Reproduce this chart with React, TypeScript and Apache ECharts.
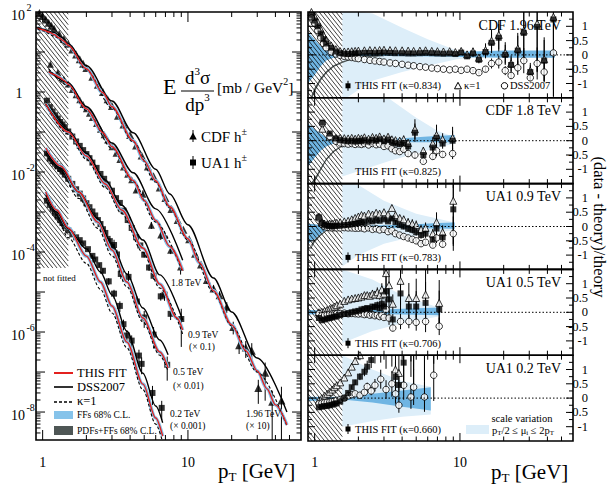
import React, { useEffect, useRef } from 'react';
import * as echarts from 'echarts';

const SERIF = '"Liberation Serif", "Times New Roman", "DejaVu Serif", serif';

// ---------------- axes / ticks ----------------
const X_MIN = 0.9;
const X_MAX = 60;
const Y_MIN = 2e-9;
const Y_MAX = 100;
const R_MIN = -1.5;
const R_MAX = 1.5;
const xMajorTicks = [1, 10];
const xMinorTicks = [2, 3, 4, 5, 6, 7, 8, 9, 20, 30, 40, 50];
const xTickLabels = ['1', '10'];
const yLeftLabelExps = [2, 0, -2, -4, -6, -8];
const rMajorTicks = [-1, -0.5, 0, 0.5, 1];
const rMinorTicks = [-1.25, -0.75, -0.25, 0.25, 0.75, 1.25];
const rTickValues = [1, 0.5, 0, -0.5, -1];
const rTickLabels = ['1', '0.5', '0', '-0.5', '-1'];
const notFittedPt = 1.5;
const notFittedPtRatio = 1.55;
const notFittedLowestY = 4e-5;

// ---------------- CDF 1.96 TeV (x10) ----------------
const cdf196Pt = [0.95, 1.0, 1.05, 1.1, 1.15, 1.2, 1.3, 1.4, 1.5, 1.6, 1.7, 1.8, 1.9, 2.0, 2.2, 2.4, 2.6, 2.8, 3.0, 3.3, 3.6, 4.0, 4.4, 4.8, 5.3, 5.8, 6.4, 7.0, 7.7, 8.5, 9.3, 10.2, 11.2, 12.3, 13.5, 15, 16.5, 18.5, 20.5, 22.5, 25, 27.5, 30.5, 34, 38, 44];
const cdf196Val = [95, 79, 65, 54, 45, 38, 28, 21, 16, 11.6, 8.7, 6.6, 5.1, 4.0, 2.4, 1.52, 1.0, 0.66, 0.45, 0.256, 0.155, 0.084, 0.046, 0.026, 0.0138, 0.0078, 0.0041, 0.00224, 0.00119, 6.3e-4, 3.6e-4, 2.08e-4, 9.0e-5, 4.9e-5, 2.0e-5, 1.23e-5, 8.3e-6, 4.3e-6, 1.34e-6, 4.7e-7, 4.1e-7, 3.4e-7, 4.0e-8, 9.6e-8, 1.8e-8, 1.95e-8];
const cdf196Err = [0.05, 0.05, 0.05, 0.05, 0.05, 0.05, 0.05, 0.05, 0.03, 0.03, 0.03, 0.03, 0.03, 0.03, 0.03, 0.03, 0.03, 0.03, 0.03, 0.03, 0.03, 0.03, 0.03, 0.03, 0.03, 0.03, 0.03, 0.03, 0.03, 0.03, 0.05, 0.08, 0.1, 0.12, 0.15, 0.2, 0.25, 0.3, 0.35, 0.4, 0.45, 0.55, 0.6, 0.8, 0.9, 1.2];
const cdf196RFit = [1.4, 1.2, 1.0, 0.75, 0.55, 0.4, 0.25, 0.12, 0.06, 0.04, 0.03, 0.04, 0.05, 0.06, 0.07, 0.07, 0.06, 0.07, 0.08, 0.07, 0.06, 0.06, 0.05, 0.05, 0.06, 0.07, 0.06, 0.05, 0.04, 0.05, 0.03, 0.08, -0.05, 0.05, -0.17, 0.1, 0.42, 0.6, 0.0, -0.35, 0.15, 0.77, -0.6, 0.98, -0.2, 1.24];
const cdf196RK1 = [1.5, 1.35, 1.15, 0.9, 0.7, 0.52, 0.33, 0.2, 0.13, 0.12, 0.12, 0.13, 0.14, 0.15, 0.16, 0.17, 0.16, 0.17, 0.18, 0.17, 0.16, 0.16, 0.15, 0.14, 0.15, 0.16, 0.14, 0.13, 0.12, 0.13, 0.1, 0.14, 0.02, 0.12, -0.1, 0.17, 0.5, 0.7, 0.07, -0.3, 0.22, 0.85, -0.55, 1.1, -0.15, 1.33];
const cdf196RDss = [1.3, 1.1, 0.85, 0.6, 0.4, 0.25, 0.1, 0.03, -0.02, -0.05, -0.07, -0.09, -0.11, -0.13, -0.16, -0.19, -0.21, -0.23, -0.25, -0.28, -0.3, -0.33, -0.36, -0.38, -0.41, -0.43, -0.46, -0.48, -0.5, -0.52, -0.5, -0.54, -0.5, -0.55, -0.62, -0.5, -0.3, -0.25, -0.55, -0.72, -0.45, -0.2, -0.8, -0.3, -0.6, 0.07];
const cdf196FitPt = [0.92, 1.0, 1.1, 1.2, 1.3, 1.4, 1.5, 2.0, 2.6, 3.0, 4.2, 5, 6, 7.5, 10, 12, 15, 20, 25, 30, 35, 40, 48];
const cdf196FitVal = [40, 36, 31.6, 27.5, 22.4, 18.6, 14.8, 3.8, 0.955, 0.427, 0.0603, 0.019, 0.00603, 0.00135, 2.14e-4, 5.4e-5, 1.07e-5, 1.51e-6, 3.4e-7, 1.07e-7, 3.8e-8, 1.51e-8, 4.8e-9];
const cdf196DssPt = [0.92, 1.0, 1.2, 1.35, 1.5, 2.0, 3.0, 4.2, 6.0, 7.5, 10, 15, 20, 30, 48];
const cdf196DssVal = [41.7, 37.2, 30.9, 23.4, 16.2, 4.57, 0.596, 0.0955, 0.01175, 0.00282, 4.8e-4, 2.24e-5, 3.16e-6, 2.24e-7, 1.0e-8];
const cdf196K1Pt = [0.92, 1.0, 1.2, 1.5, 2.0, 3.0, 4.2, 6.0, 7.5, 10, 15, 20, 30, 48];
const cdf196K1Val = [38, 33.9, 25.1, 14.1, 3.55, 0.398, 0.0562, 0.00562, 0.00126, 2.0e-4, 1.0e-5, 1.41e-6, 1.0e-7, 4.5e-9];

// ---------------- CDF 1.8 TeV ----------------
const cdf18Pt = [1.13, 1.27, 1.4, 1.5, 1.6, 1.7, 1.8, 1.9, 2.0, 2.1, 2.2, 2.35, 2.5, 2.65, 2.8, 3.0, 3.2, 3.4, 3.6, 3.85, 4.1, 4.4, 4.9, 5.6, 6.5, 6.9, 7.6, 8.9];
const cdf18Val = [4.93, 3.09, 2.09, 1.58, 1.15, 0.85, 0.64, 0.49, 0.38, 0.294, 0.23, 0.163, 0.117, 0.0857, 0.063, 0.0427, 0.0293, 0.0206, 0.0133, 0.0088, 0.0064, 0.00355, 0.00279, 4.7e-4, 2.68e-4, 2.6e-4, 1.11e-4, 4.2e-5];
const cdf18Err = [0.05, 0.04, 0.03, 0.03, 0.03, 0.03, 0.03, 0.03, 0.03, 0.04, 0.04, 0.04, 0.05, 0.05, 0.05, 0.06, 0.06, 0.07, 0.08, 0.1, 0.12, 0.15, 0.25, 0.2, 0.25, 0.3, 0.2, 0.35];
const cdf18RFit = [0.63, 0.25, 0.08, 0.02, 0.0, -0.02, 0.0, -0.03, 0.0, -0.02, 0.02, -0.03, 0.03, 0.0, 0.05, -0.02, 0.04, -0.05, -0.1, -0.12, -0.08, -0.2, 0.28, -0.5, -0.24, 0.1, -0.1, 0.0];
const cdf18RK1 = [0.42, 0.15, 0.1, 0.1, 0.09, 0.08, 0.1, 0.07, 0.1, 0.08, 0.12, 0.07, 0.13, 0.1, 0.15, 0.08, 0.14, 0.05, 0.02, 0.0, 0.05, -0.08, 0.4, -0.35, -0.1, 0.2, 0.05, 0.1];
const cdf18RDss = [0.6, 0.15, -0.02, -0.08, -0.1, -0.12, -0.1, -0.13, -0.11, -0.13, -0.1, -0.15, -0.1, -0.14, -0.12, -0.2, -0.18, -0.28, -0.35, -0.38, -0.3, -0.45, -0.5, -0.72, -0.55, -0.35, -0.48, -0.45];
const cdf18FitPt = [1.1, 1.2, 1.3, 1.4, 1.5, 2.0, 2.6, 3.0, 4.2, 5, 6, 7.5, 9.2];
const cdf18FitVal = [3.16, 2.75, 2.34, 1.95, 1.55, 0.38, 0.0955, 0.0427, 0.00617, 0.00195, 6.17e-4, 1.38e-4, 3.47e-5];
const cdf18DssPt = [1.1, 1.5, 2.0, 3.0, 4.2, 6.0, 9.2];
const cdf18DssVal = [3.39, 1.72, 0.427, 0.0533, 0.00955, 0.0012, 6.2e-5];
const cdf18K1Pt = [1.1, 1.5, 2.0, 3.0, 4.2, 6.0, 9.2];
const cdf18K1Val = [3.8, 1.44, 0.346, 0.0394, 0.00575, 5.6e-4, 3.1e-5];

// ---------------- UA1 0.9 TeV (x0.1) ----------------
const ua09Pt = [1.07, 1.12, 1.17, 1.22, 1.27, 1.32, 1.37, 1.42, 1.5, 1.6, 1.7, 1.8, 1.9, 2.0, 2.1, 2.2, 2.35, 2.5, 2.65, 2.8, 3.0, 3.2, 3.4, 3.6, 3.85, 4.1, 4.4, 4.7, 5.0, 5.4, 5.8, 6.5, 6.9, 7.6, 9.0];
const ua09Val = [0.608, 0.419, 0.326, 0.262, 0.217, 0.178, 0.154, 0.132, 0.103, 0.0771, 0.058, 0.045, 0.0353, 0.0281, 0.0222, 0.0172, 0.0127, 0.00895, 0.00676, 0.00488, 0.00341, 0.00222, 0.00169, 0.00108, 6.3e-4, 4.0e-4, 2.34e-4, 1.46e-4, 8.6e-5, 4.1e-5, 2.55e-5, 7.8e-6, 8.6e-6, 2.85e-6, 2.12e-6];
const ua09Err = [0.05, 0.04, 0.03, 0.03, 0.03, 0.03, 0.03, 0.03, 0.03, 0.03, 0.03, 0.03, 0.03, 0.03, 0.03, 0.03, 0.03, 0.03, 0.03, 0.03, 0.04, 0.05, 0.06, 0.07, 0.08, 0.1, 0.12, 0.14, 0.15, 0.18, 0.2, 0.22, 0.3, 0.3, 0.8];
const ua09RFit = [0.32, 0.12, 0.06, 0.03, 0.02, 0.0, 0.02, 0.03, 0.03, 0.05, 0.06, 0.08, 0.1, 0.12, 0.15, 0.14, 0.2, 0.18, 0.22, 0.2, 0.25, 0.18, 0.28, 0.15, 0.05, 0.0, -0.08, -0.12, -0.2, -0.3, -0.25, -0.45, -0.07, -0.38, 0.6];
const ua09RK1 = [0.35, 0.15, 0.1, 0.08, 0.1, 0.1, 0.12, 0.13, 0.15, 0.18, 0.2, 0.25, 0.3, 0.35, 0.4, 0.38, 0.45, 0.42, 0.48, 0.45, 0.5, 0.42, 0.65, 0.4, 0.3, 0.25, 0.15, 0.1, 0.05, -0.1, -0.05, -0.25, 0.15, -0.2, 0.9];
const ua09RDss = [0.3, 0.08, 0.0, -0.03, -0.04, -0.05, -0.04, -0.05, -0.05, -0.04, -0.05, -0.05, -0.06, -0.06, -0.05, -0.08, -0.05, -0.1, -0.08, -0.12, -0.1, -0.18, -0.15, -0.25, -0.3, -0.35, -0.4, -0.45, -0.5, -0.6, -0.55, -0.65, -0.4, -0.62, -0.25];
const ua09FitPt = [1.05, 1.5, 2.0, 2.7, 3.5, 4.9, 6.4, 8.4, 9.2];
const ua09FitVal = [0.501, 0.1, 0.0251, 0.00501, 0.00112, 1.26e-4, 1.58e-5, 2.24e-6, 1.12e-6];
const ua09DssPt = [1.05, 1.5, 2.0, 2.7, 3.5, 4.9, 6.4, 9.2];
const ua09DssVal = [0.501, 0.11, 0.0295, 0.0063, 0.00148, 2.0e-4, 2.69e-5, 2.0e-6];
const ua09K1Pt = [1.05, 1.5, 2.0, 2.7, 3.5, 4.9, 6.4, 9.2];
const ua09K1Val = [0.49, 0.0891, 0.0209, 0.00407, 9.1e-4, 9.8e-5, 1.26e-5, 8.9e-7];

// ---------------- UA1 0.5 TeV (x0.01) ----------------
const ua05Pt = [1.07, 1.12, 1.17, 1.22, 1.27, 1.32, 1.37, 1.42, 1.5, 1.6, 1.7, 1.8, 1.9, 2.0, 2.1, 2.2, 2.3, 2.4, 2.5, 2.6, 2.7, 2.8, 2.9, 3.0, 3.1, 3.25, 3.45, 3.9, 4.45, 5.0, 5.8, 7.2];
const ua05Val = [0.0293, 0.0216, 0.0186, 0.0161, 0.0138, 0.012, 0.01026, 0.0086, 0.00676, 0.00505, 0.0037, 0.00288, 0.00218, 0.00166, 0.00132, 0.00103, 8.2e-4, 6.3e-4, 5.0e-4, 3.72e-4, 3.0e-4, 2.13e-4, 1.87e-4, 1.35e-4, 1.5e-4, 8.7e-5, 2.83e-5, 2.39e-5, 5.8e-6, 2.31e-6, 8.6e-7, 1.52e-7];
const ua05Err = [0.04, 0.04, 0.04, 0.04, 0.04, 0.04, 0.04, 0.04, 0.04, 0.04, 0.04, 0.04, 0.04, 0.04, 0.04, 0.04, 0.04, 0.04, 0.08, 0.08, 0.1, 0.1, 0.12, 0.12, 0.35, 0.3, 0.25, 0.4, 0.35, 0.45, 0.55, 0.6];
const ua05RFit = [-0.2, -0.28, -0.25, -0.22, -0.2, -0.18, -0.15, -0.14, -0.1, -0.06, -0.05, 0.0, 0.03, 0.05, 0.1, 0.12, 0.15, 0.12, 0.2, 0.18, 0.25, 0.15, 0.3, 0.2, 0.73, 0.45, -0.25, 0.66, 0.2, 0.2, 0.33, 0.1];
const ua05RK1 = [0.0, 0.02, 0.05, 0.08, 0.12, 0.15, 0.2, 0.25, 0.3, 0.4, 0.45, 0.48, 0.5, 0.52, 0.55, 0.6, 0.6, 0.58, 0.65, 0.62, 0.7, 0.6, 0.8, 0.65, 1.37, 0.95, 0.3, 1.1, 0.5, 0.5, 0.62, 0.33];
const ua05RDss = [-0.05, -0.12, -0.1, -0.08, -0.07, -0.06, -0.05, -0.05, -0.04, -0.03, -0.05, -0.04, -0.05, -0.06, -0.05, -0.08, -0.06, -0.1, -0.08, -0.12, -0.1, -0.15, -0.1, -0.18, 0.1, -0.2, -0.55, -0.32, -0.32, -0.35, -0.32, -0.49];
const ua05FitPt = [1.05, 1.33, 1.77, 2.4, 3.0, 3.8, 4.9, 6.4, 7.3];
const ua05FitVal = [0.0398, 0.0141, 0.00316, 5.6e-4, 1.12e-4, 1.78e-5, 2.24e-6, 3.16e-7, 1.26e-7];
const ua05DssPt = [1.05, 1.33, 1.77, 2.4, 3.0, 3.8, 4.9, 6.4, 7.3];
const ua05DssVal = [0.0331, 0.0126, 0.00316, 6.8e-4, 1.58e-4, 2.82e-5, 3.98e-6, 6.3e-7, 2.69e-7];
const ua05K1Pt = [1.05, 1.33, 1.77, 2.4, 3.0, 3.8, 4.9, 6.4, 7.3];
const ua05K1Val = [0.0282, 0.01, 0.00219, 3.89e-4, 8.1e-5, 1.35e-5, 1.78e-6, 2.63e-7, 1.05e-7];

// ---------------- UA1 0.2 TeV (x0.001) ----------------
const ua02Pt = [1.07, 1.12, 1.17, 1.22, 1.27, 1.32, 1.37, 1.42, 1.5, 1.6, 1.7, 1.8, 1.9, 2.05, 2.2, 2.3, 2.45, 2.6, 2.85, 3.1, 3.4, 3.6, 3.8, 4.1, 4.6, 4.8, 5.7, 6.6];
const ua02Val = [1.92e-3, 1.51e-3, 1.2e-3, 9.5e-4, 7.7e-4, 6.3e-4, 5.3e-4, 4.5e-4, 3.5e-4, 2.77e-4, 2.33e-4, 1.98e-4, 1.64e-4, 1.18e-4, 8.0e-5, 6.5e-5, 4.7e-5, 3.4e-5, 1.85e-5, 9.1e-6, 4.5e-6, 1.57e-6, 8.2e-7, 6.1e-7, 2.58e-7, 1.6e-7, 3.0e-8, 1.27e-8];
const ua02Err = [0.03, 0.03, 0.03, 0.03, 0.03, 0.03, 0.03, 0.03, 0.03, 0.04, 0.05, 0.05, 0.06, 0.07, 0.08, 0.1, 0.12, 0.15, 0.2, 0.25, 0.3, 0.3, 0.35, 0.35, 0.4, 0.45, 0.5, 0.5];
const ua02RFit = [-0.32, -0.3, -0.28, -0.27, -0.25, -0.23, -0.2, -0.18, -0.12, 0.0, 0.18, 0.38, 0.55, 0.75, 0.92, 1.1, 1.33, 1.6, 1.8, 1.7, 2.0, 0.74, 0.46, 1.24, 1.9, 1.7, 1.6, 3.4];
const ua02RK1 = [-0.08, 0.0, 0.08, 0.15, 0.22, 0.3, 0.38, 0.45, 0.55, 0.72, 0.9, 1.1, 1.3, 1.5, 1.8, 2.1, 2.4, 2.8, 3.0, 3.0, 3.3, 1.0, 0.88, 2.0, 2.8, 2.6, 2.2, 4.5];
const ua02RDss = [-0.2, -0.18, -0.16, -0.15, -0.14, -0.12, -0.1, -0.08, -0.05, 0.0, 0.08, 0.12, 0.15, 0.1, 0.2, 0.4, 0.25, 0.45, 0.66, 0.3, 0.5, 0.15, -0.25, 0.45, 0.04, 0.38, 0.04, 0.8];
const ua02FitPt = [1.05, 1.25, 1.5, 2.0, 2.5, 3.0, 3.8, 4.9, 6.0, 6.7];
const ua02FitVal = [3.16e-3, 1.12e-3, 3.98e-4, 7.9e-5, 1.78e-5, 4.47e-6, 5.6e-7, 5.0e-8, 7.1e-9, 2.5e-9];
const ua02DssPt = [1.05, 1.25, 1.5, 2.0, 2.5, 3.0, 3.8, 4.9, 6.0, 6.7];
const ua02DssVal = [2.69e-3, 1.0e-3, 3.8e-4, 1.2e-4, 3.16e-5, 8.5e-6, 1.05e-6, 9.3e-8, 1.41e-8, 5.4e-9];
const ua02K1Pt = [1.05, 1.25, 1.5, 2.0, 2.5, 3.0, 3.8, 4.9, 6.0, 6.7];
const ua02K1Val = [2.24e-3, 7.1e-4, 2.29e-4, 5.2e-5, 1.17e-5, 3.0e-6, 4.0e-7, 3.6e-8, 5.0e-9, 1.78e-9];

// ---------------- ratio-panel bands ----------------
const p1ScalePt = [1.55, 2.5, 4, 6, 9.5, 13];
const p1ScaleLo = [-1.6, -0.9, -0.6, -0.38, -0.15, -0.1];
const p1ScaleHi = [1.6, 1.45, 0.95, 0.55, 0.15, 0.1];
const p1FfPt = [0.9, 1.0, 1.1, 1.2, 1.35, 1.55, 2, 3, 5, 8, 12, 20, 30, 45];
const p1FfLo = [-1.0, -0.7, -0.4, -0.2, -0.1, -0.05, -0.04, -0.04, -0.05, -0.06, -0.08, -0.1, -0.1, -0.1];
const p1FfHi = [0.8, 0.55, 0.3, 0.15, 0.08, 0.05, 0.04, 0.04, 0.05, 0.08, 0.12, 0.15, 0.15, 0.15];
const p1PdfPt = [0.95, 1.0, 1.1, 1.2, 1.35, 1.55, 1.8, 2.2, 3.0];
const p1PdfLo = [-1.6, -1.3, -0.9, -0.65, -0.42, -0.28, -0.16, -0.08, -0.05];
const p1PdfHi = [-1.42, -1.15, -0.8, -0.57, -0.36, -0.23, -0.12, -0.05, -0.03];

const p2ScalePt = [1.55, 3.3, 5, 7, 9.2];
const p2ScaleLo = [-1.25, -0.7, -0.45, -0.25, -0.1];
const p2ScaleHi = [1.6, 1.45, 0.8, 0.35, 0.12];
const p2FfPt = [0.9, 1.0, 1.1, 1.2, 1.35, 1.55, 2, 3, 4.5, 6, 9.2];
const p2FfLo = [-0.9, -0.6, -0.35, -0.2, -0.1, -0.05, -0.04, -0.04, -0.05, -0.05, -0.05];
const p2FfHi = [0.6, 0.4, 0.25, 0.12, 0.07, 0.05, 0.04, 0.05, 0.1, 0.15, 0.2];
const p2PdfPt = [0.95, 1.0, 1.1, 1.2, 1.35, 1.55, 2.0];
const p2PdfLo = [-1.6, -1.45, -1.05, -0.7, -0.4, -0.2, -0.08];
const p2PdfHi = [-1.45, -1.32, -0.95, -0.62, -0.34, -0.16, -0.05];

const p3ScalePt = [1.55, 2.0, 3.0, 5.0, 9.2];
const p3ScaleLo = [-1.4, -1.0, -0.6, -0.32, -0.12];
const p3ScaleHi = [1.6, 1.45, 0.9, 0.45, 0.14];
const p3FfPt = [0.9, 1.0, 1.1, 1.2, 1.4, 2, 3, 5, 7, 9.2];
const p3FfLo = [-0.6, -0.45, -0.25, -0.12, -0.05, -0.03, -0.04, -0.06, -0.07, -0.08];
const p3FfHi = [0.1, 0.08, 0.05, 0.04, 0.03, 0.03, 0.04, 0.08, 0.12, 0.14];
const p3PdfPt = [0.95, 1.0, 1.1, 1.2, 1.4];
const p3PdfLo = [-0.75, -0.55, -0.32, -0.17, -0.07];
const p3PdfHi = [-0.62, -0.45, -0.26, -0.13, -0.05];

const p4ScalePt = [1.55, 2.5, 4, 7.3];
const p4ScaleLo = [-1.07, -0.65, -0.38, -0.14];
const p4ScaleHi = [1.5, 1.15, 0.6, 0.15];
const p4FfPt = [0.9, 1.2, 1.5, 2.5, 4, 7.3];
const p4FfLo = [-0.08, -0.06, -0.05, -0.06, -0.08, -0.1];
const p4FfHi = [0.08, 0.06, 0.05, 0.08, 0.12, 0.17];

const p5ScalePt = [1.55, 2.5, 4, 6.3];
const p5ScaleLo = [-1.0, -0.8, -0.65, -0.57];
const p5ScaleHi = [1.5, 1.0, 0.6, 0.4];
const p5FfPt = [0.9, 1.2, 1.55, 2.5, 4, 6.3];
const p5FfLo = [-0.1, -0.08, -0.05, -0.15, -0.3, -0.43];
const p5FfHi = [0.05, 0.04, 0.05, 0.15, 0.27, 0.38];

// ---------------- colours ----------------
const RED = '#e3211f';
const FF_BLUE = '#6fb5e3';
const FF_BLUE_LEFT = '#86c3ea';
const SCALE_BLUE = '#ddeef9';
const PDF_GRAY = '#4e5655';

// ---------------- layout ----------------
const LG = { left: 36, top: 12, width: 265, height: 428 };
const RG = { left: 308, top: 12, width: 265 };
const PH = 85.8;

const leftSets = [
  { pt: cdf196Pt, val: cdf196Val, err: cdf196Err, sym: 'triangle', size: 8, fit: [cdf196FitPt, cdf196FitVal], dss: [cdf196DssPt, cdf196DssVal], k1: [cdf196K1Pt, cdf196K1Val] },
  { pt: cdf18Pt, val: cdf18Val, err: cdf18Err, sym: 'triangle', size: 7, fit: [cdf18FitPt, cdf18FitVal], dss: [cdf18DssPt, cdf18DssVal], k1: [cdf18K1Pt, cdf18K1Val] },
  { pt: ua09Pt, val: ua09Val, err: ua09Err, sym: 'rect', size: 6, fit: [ua09FitPt, ua09FitVal], dss: [ua09DssPt, ua09DssVal], k1: [ua09K1Pt, ua09K1Val] },
  { pt: ua05Pt, val: ua05Val, err: ua05Err, sym: 'rect', size: 6, fit: [ua05FitPt, ua05FitVal], dss: [ua05DssPt, ua05DssVal], k1: [ua05K1Pt, ua05K1Val] },
  { pt: ua02Pt, val: ua02Val, err: ua02Err, sym: 'rect', size: 6, fit: [ua02FitPt, ua02FitVal], dss: [ua02DssPt, ua02DssVal], k1: [ua02K1Pt, ua02K1Val] },
];

const ratioPanels = [
  { title: 'CDF 1.96 TeV', fitLabel: 'THIS FIT (κ=0.834)', marker: true, pt: cdf196Pt, err: cdf196Err, rFit: cdf196RFit, rK1: cdf196RK1, rDss: cdf196RDss,
    scale: [p1ScalePt, p1ScaleLo, p1ScaleHi], ff: [p1FfPt, p1FfLo, p1FfHi], pdf: [p1PdfPt, p1PdfLo, p1PdfHi] },
  { title: 'CDF 1.8 TeV', fitLabel: 'THIS FIT (κ=0.825)', marker: false, pt: cdf18Pt, err: cdf18Err, rFit: cdf18RFit, rK1: cdf18RK1, rDss: cdf18RDss,
    scale: [p2ScalePt, p2ScaleLo, p2ScaleHi], ff: [p2FfPt, p2FfLo, p2FfHi], pdf: [p2PdfPt, p2PdfLo, p2PdfHi] },
  { title: 'UA1 0.9 TeV', fitLabel: 'THIS FIT (κ=0.783)', marker: true, pt: ua09Pt, err: ua09Err, rFit: ua09RFit, rK1: ua09RK1, rDss: ua09RDss,
    scale: [p3ScalePt, p3ScaleLo, p3ScaleHi], ff: [p3FfPt, p3FfLo, p3FfHi], pdf: [p3PdfPt, p3PdfLo, p3PdfHi] },
  { title: 'UA1 0.5 TeV', fitLabel: 'THIS FIT (κ=0.706)', marker: true, pt: ua05Pt, err: ua05Err, rFit: ua05RFit, rK1: ua05RK1, rDss: ua05RDss,
    scale: [p4ScalePt, p4ScaleLo, p4ScaleHi], ff: [p4FfPt, p4FfLo, p4FfHi], pdf: null },
  { title: 'UA1 0.2 TeV', fitLabel: 'THIS FIT (κ=0.660)', marker: true, pt: ua02Pt, err: ua02Err, rFit: ua02RFit, rK1: ua02RK1, rDss: ua02RDss,
    scale: [p5ScalePt, p5ScaleLo, p5ScaleHi], ff: [p5FfPt, p5FfLo, p5FfHi], pdf: null },
];

// ---------------- helpers ----------------
let measureCtx: any = null;
function tw(text: string, size: number) {
  if (!measureCtx) measureCtx = document.createElement('canvas').getContext('2d');
  measureCtx.font = `${size}px ${SERIF}`;
  return measureCtx.measureText(text).width;
}
function txtEl(text: string, x: number, y: number, size: number, align = 'left', extra: any = {}) {
  return {
    type: 'text', x, y, silent: true, ...extra,
    style: { text, fill: '#000', font: `${size}px ${SERIF}`, align, verticalAlign: 'middle', textAlign: align, textVerticalAlign: 'middle' },
  };
}
function lineEl(x1: number, y1: number, x2: number, y2: number, w = 1, color = '#000', dash: any = null) {
  const style: any = { stroke: color, lineWidth: w };
  if (dash) style.lineDash = dash;
  return { type: 'line', silent: true, shape: { x1, y1, x2, y2 }, style };
}
function runs(x: number, y: number, pieces: any[], anchor = 'left', z = 100) {
  const widths = pieces.map((p) => tw(p[0], p[1]));
  const total = widths.reduce((a, b) => a + b, 0);
  let cx = anchor === 'left' ? x : anchor === 'center' ? x - total / 2 : x - total;
  return pieces.map((p, i) => {
    const el = txtEl(p[0], cx, y + (p[2] || 0), p[1], 'left', { z });
    cx += widths[i];
    return el;
  });
}

function bandSeries(gi: number, band: any, color: string) {
  const [pts, lo, hi] = band;
  return {
    type: 'custom', xAxisIndex: gi, yAxisIndex: gi, clip: true, silent: true,
    data: pts.map((p: number, i: number) => [p, lo[i], hi[i]]),
    renderItem: (params: any, api: any) => {
      if (params.dataIndex !== 0) return null;
      const up = pts.map((p: number, i: number) => api.coord([p, hi[i]]));
      const dn = pts.map((p: number, i: number) => api.coord([p, lo[i]])).reverse();
      return { type: 'polygon', shape: { points: up.concat(dn) }, style: { fill: color } };
    },
  };
}

function hatchSeries(gi: number, ptMax: number, yTop: number, yBottom: number | null) {
  return {
    type: 'custom', xAxisIndex: gi, yAxisIndex: gi, clip: true, silent: true,
    data: [[ptMax, yTop]],
    renderItem: (params: any, api: any) => {
      const cs = params.coordSys;
      const xa = cs.x;
      const xb = api.coord([ptMax, yTop])[0];
      const ya = cs.y;
      const yb = yBottom == null ? cs.y + cs.height : api.coord([ptMax, yBottom])[1];
      const s = 1.25;
      const d = 4.2;
      const children: any[] = [];
      for (let c = xa - (yb - ya) / s; c < xb; c += d) {
        const yS = ya + Math.max(0, xa - c) * s;
        const yE = Math.min(yb, ya + (xb - c) * s);
        if (yE <= yS) continue;
        children.push({ type: 'line', shape: { x1: c + (yS - ya) / s, y1: yS, x2: c + (yE - ya) / s, y2: yE }, style: { stroke: '#000', lineWidth: 0.75 } });
      }
      return { type: 'group', children };
    },
  };
}

function logErrSeries(set: any) {
  return {
    type: 'custom', xAxisIndex: 0, yAxisIndex: 0, clip: true, silent: true,
    data: set.pt.map((p: number, i: number) => [p, set.val[i], set.err[i]]),
    renderItem: (params: any, api: any) => {
      const x = api.value(0), v = api.value(1), e = api.value(2);
      const lo = e >= 0.97 ? 1e-12 : v * (1 - e);
      const a = api.coord([x, v * (1 + e)]);
      const b = api.coord([x, lo]);
      return { type: 'line', shape: { x1: a[0], y1: a[1], x2: b[0], y2: b[1] }, style: { stroke: '#000', lineWidth: 1 } };
    },
  };
}

function ratioErrSeries(gi: number, p: any) {
  const data: any[] = [];
  [p.rFit, p.rK1, p.rDss].forEach((arr: number[]) => {
    p.pt.forEach((x: number, i: number) => data.push([x, arr[i], p.err[i] * (1 + arr[i])]));
  });
  return {
    type: 'custom', xAxisIndex: gi, yAxisIndex: gi, clip: true, silent: true,
    data,
    renderItem: (params: any, api: any) => {
      const x = api.value(0), r = api.value(1), e = api.value(2);
      const a = api.coord([x, r + e]);
      const b = api.coord([x, r - e]);
      return { type: 'line', shape: { x1: a[0], y1: a[1], x2: b[0], y2: b[1] }, style: { stroke: '#000', lineWidth: 1 } };
    },
  };
}

function lineSeries(gi: number, curve: any, color: string, width: number, type: any = 'solid') {
  const [pts, vals] = curve;
  return {
    type: 'line', xAxisIndex: gi, yAxisIndex: gi, silent: true, clip: true,
    data: pts.map((p: number, i: number) => [p, vals[i]]),
    showSymbol: false, symbol: 'none', smooth: 0.3, smoothMonotone: 'x',
    lineStyle: { color, width, type },
  };
}

function leftAxesSeries() {
  return {
    type: 'custom', xAxisIndex: 0, yAxisIndex: 0, clip: false, silent: true, z: 10,
    data: [[1, 1]],
    renderItem: (params: any, api: any) => {
      const cs = params.coordSys;
      const x0 = cs.x, x1 = cs.x + cs.width, y0 = cs.y, y1 = cs.y + cs.height;
      const ch: any[] = [];
      ch.push({ type: 'rect', shape: { x: x0, y: y0, width: cs.width, height: cs.height }, style: { fill: 'none', stroke: '#000', lineWidth: 1.6 } });
      xMajorTicks.forEach((t, i) => {
        const px = api.coord([t, 1])[0];
        ch.push(lineEl(px, y1, px, y1 - 10), lineEl(px, y0, px, y0 + 10));
        ch.push(txtEl(xTickLabels[i], px, y1 + 22, 14, 'center'));
      });
      xMinorTicks.forEach((t) => {
        const px = api.coord([t, 1])[0];
        ch.push(lineEl(px, y1, px, y1 - 5), lineEl(px, y0, px, y0 + 5));
      });
      for (let e = -9; e <= 2; e++) {
        for (let k = 1; k <= 9; k++) {
          const v = k * Math.pow(10, e);
          if (v < Y_MIN * 1.001 || v > Y_MAX * 0.999) continue;
          const py = api.coord([1, v])[1];
          const len = k === 1 ? 9 : 4.5;
          ch.push(lineEl(x0, py, x0 + len, py), lineEl(x1, py, x1 - len, py));
        }
      }
      yLeftLabelExps.forEach((e) => {
        const py = api.coord([1, Math.pow(10, e)])[1];
        if (e === 0) ch.push(txtEl('1', x0 - 17, py + 1, 14, 'center'));
        else {
          ch.push(txtEl('10', x0 - 11, py + 3, 14, 'right'));
          ch.push(txtEl(String(e), x0 - 9.5, py - 5, 10, 'left'));
        }
      });
      return { type: 'group', children: ch };
    },
  };
}

function ratioAxesSeries(gi: number, last: boolean) {
  return {
    type: 'custom', xAxisIndex: gi, yAxisIndex: gi, clip: false, silent: true, z: 10,
    data: [[1, 0]],
    renderItem: (params: any, api: any) => {
      const cs = params.coordSys;
      const x0 = cs.x, x1 = cs.x + cs.width, y0 = cs.y, y1 = cs.y + cs.height;
      const ch: any[] = [];
      ch.push({ type: 'rect', shape: { x: x0, y: y0, width: cs.width, height: cs.height }, style: { fill: 'none', stroke: '#000', lineWidth: 1.6 } });
      xMajorTicks.forEach((t, i) => {
        const px = api.coord([t, 0])[0];
        ch.push(lineEl(px, y1, px, y1 - 8), lineEl(px, y0, px, y0 + 8));
        if (last) ch.push(txtEl(xTickLabels[i], px, y1 + 21, 14, 'center'));
      });
      xMinorTicks.forEach((t) => {
        const px = api.coord([t, 0])[0];
        ch.push(lineEl(px, y1, px, y1 - 4.5), lineEl(px, y0, px, y0 + 4.5));
      });
      rMajorTicks.forEach((v) => {
        const py = api.coord([1, v])[1];
        ch.push(lineEl(x0, py, x0 + 7, py), lineEl(x1, py, x1 - 7, py));
      });
      rMinorTicks.forEach((v) => {
        const py = api.coord([1, v])[1];
        ch.push(lineEl(x0, py, x0 + 4, py), lineEl(x1, py, x1 - 4, py));
      });
      rTickValues.forEach((v, j) => {
        const py = api.coord([1, v])[1];
        ch.push(txtEl(rTickLabels[j], x1 + 15, py, 12.5, 'right'));
      });
      return { type: 'group', children: ch };
    },
  };
}

function buildOption() {
  const grid: any[] = [];
  const xAxis: any[] = [];
  const yAxis: any[] = [];
  const series: any[] = [];

  grid.push({ left: LG.left, top: LG.top, width: LG.width, height: LG.height, show: false });
  xAxis.push({ type: 'log', logBase: 10, gridIndex: 0, min: X_MIN, max: X_MAX, show: false });
  yAxis.push({ type: 'log', logBase: 10, gridIndex: 0, min: Y_MIN, max: Y_MAX, show: false });
  for (let i = 0; i < 5; i++) {
    grid.push({ left: RG.left, top: RG.top + i * PH, width: RG.width, height: PH, show: false });
    xAxis.push({ type: 'log', logBase: 10, gridIndex: i + 1, min: X_MIN, max: X_MAX, show: false });
    yAxis.push({ type: 'value', gridIndex: i + 1, min: R_MIN, max: R_MAX, show: false });
  }

  // ---- left panel ----
  series.push(hatchSeries(0, notFittedPt, Y_MAX, notFittedLowestY));
  leftSets.forEach((s) => series.push(lineSeries(0, s.fit, FF_BLUE_LEFT, 3.5)));
  leftSets.forEach((s) => series.push(lineSeries(0, s.k1, '#000', 1.1, [3, 2])));
  leftSets.forEach((s) => series.push(lineSeries(0, s.dss, '#000', 1.4)));
  leftSets.forEach((s) => series.push(lineSeries(0, s.fit, RED, 1.4)));
  leftSets.forEach((s) => series.push(logErrSeries(s)));
  leftSets.forEach((s) => series.push({
    type: 'scatter', xAxisIndex: 0, yAxisIndex: 0, silent: true, clip: true,
    data: s.pt.map((p: number, i: number) => [p, s.val[i]]),
    symbol: s.sym, symbolSize: s.size, itemStyle: { color: '#000' },
  }));
  series.push(leftAxesSeries());

  // ---- ratio panels ----
  ratioPanels.forEach((p, i) => {
    const gi = i + 1;
    series.push(bandSeries(gi, p.scale, SCALE_BLUE));
    if (p.pdf) series.push(bandSeries(gi, p.pdf, PDF_GRAY));
    series.push(bandSeries(gi, p.ff, FF_BLUE));
    series.push(hatchSeries(gi, notFittedPtRatio, R_MAX, null));
    series.push({
      type: 'line', xAxisIndex: gi, yAxisIndex: gi, silent: true, data: [[X_MIN, 0], [X_MAX, 0]],
      showSymbol: false, symbol: 'none', lineStyle: { color: '#000', width: 1, type: [1.5, 2] },
    });
    series.push(ratioErrSeries(gi, p));
    series.push({
      type: 'scatter', xAxisIndex: gi, yAxisIndex: gi, silent: true, clip: true,
      data: p.pt.map((x: number, j: number) => [x, p.rK1[j]]),
      symbol: 'triangle', symbolSize: 7, itemStyle: { color: '#fff', borderColor: '#000', borderWidth: 1 },
    });
    series.push({
      type: 'scatter', xAxisIndex: gi, yAxisIndex: gi, silent: true, clip: true,
      data: p.pt.map((x: number, j: number) => [x, p.rDss[j]]),
      symbol: 'circle', symbolSize: 6.5, itemStyle: { color: '#fff', borderColor: '#000', borderWidth: 1 },
    });
    series.push({
      type: 'scatter', xAxisIndex: gi, yAxisIndex: gi, silent: true, clip: true,
      data: p.pt.map((x: number, j: number) => [x, p.rFit[j]]),
      symbol: 'rect', symbolSize: 6, itemStyle: { color: '#000' },
    });
    series.push(ratioAxesSeries(gi, i === 4));
  });

  // ---- graphic annotations ----
  const g: any[] = [];
  const Z = 100;
  g.push(txtEl('E', 163, 86, 22, 'left', { z: Z }));
  g.push(...runs(197.5, 77, [['d', 19], ['3', 11, -6], ['σ', 19]], 'center'));
  g.push({ ...lineEl(181, 91, 214, 91, 1), z: Z });
  g.push(...runs(197.5, 104, [['dp', 19], ['3', 11, -7]], 'center'));
  g.push(...runs(217, 87, [['[mb / GeV', 15.5], ['2', 10, -6], [']', 15.5]], 'left'));
  g.push({ type: 'polygon', z: Z, silent: true, shape: { points: [[193, 132.5], [196.8, 139.5], [189.2, 139.5]] }, style: { fill: '#000' } });
  g.push({ ...lineEl(193, 130, 193, 142, 1), z: Z });
  g.push(...runs(201, 137, [['CDF h', 15], ['±', 10, -6]], 'left'));
  g.push({ type: 'rect', z: Z, silent: true, shape: { x: 190, y: 159.5, width: 6, height: 6 }, style: { fill: '#000' } });
  g.push({ ...lineEl(193, 156, 193, 169, 1), z: Z });
  g.push(...runs(201, 163, [['UA1 h', 15], ['±', 10, -6]], 'left'));
  g.push({ ...lineEl(54, 373, 73, 373, 2, RED), z: Z });
  g.push(txtEl('THIS FIT', 77, 373, 12.5, 'left', { z: Z }));
  g.push({ ...lineEl(54, 387, 73, 387, 2, '#333'), z: Z });
  g.push(txtEl('DSS2007', 77, 387, 12.5, 'left', { z: Z }));
  g.push({ ...lineEl(54, 402, 73, 402, 1.5, '#000', [3, 2]), z: Z });
  g.push(txtEl('κ=1', 77, 401, 12.5, 'left', { z: Z }));
  g.push({ type: 'rect', z: Z, silent: true, shape: { x: 54, y: 411, width: 19, height: 8 }, style: { fill: FF_BLUE_LEFT } });
  g.push(txtEl('FFs 68% C.L.', 77, 415, 9.5, 'left', { z: Z }));
  g.push({ type: 'rect', z: Z, silent: true, shape: { x: 54, y: 426, width: 19, height: 9 }, style: { fill: PDF_GRAY } });
  g.push(txtEl('PDFs+FFs 68% C.L.', 77, 430.5, 9.5, 'left', { z: Z }));
  const eLab: any[] = [
    ['1.8 TeV', 171, 283], ['0.9 TeV', 188, 335], ['(× 0.1)', 189, 347], ['0.5 TeV', 173, 372], ['(× 0.01)', 173, 386],
    ['0.2 TeV', 170, 414], ['(× 0.001)', 170, 426], ['1.96 TeV', 246, 414], ['(× 10)', 246, 426],
  ];
  eLab.forEach((e) => g.push(txtEl(e[0], e[1], e[2], 9.5, 'left', { z: Z })));
  g.push(txtEl('not fitted', 43, 278, 9, 'left', { z: Z }));
  g.push(...runs(218, 471, [['p', 21], ['T', 13, 5], [' [GeV]', 21]], 'left'));
  g.push(...runs(491, 472, [['p', 21], ['T', 13, 5], [' [GeV]', 21]], 'left'));
  g.push(txtEl('(data - theory)/theory', 599, 227, 16.5, 'center', { z: Z, rotation: -Math.PI / 2 }));
  ratioPanels.forEach((p, i) => {
    const top = RG.top + i * PH;
    const bot = top + PH;
    g.push(txtEl(p.title, 561, top + 13, 14, 'right', { z: Z }));
    if (p.marker) {
      g.push({ type: 'rect', z: Z, silent: true, shape: { x: 345.5, y: bot - 14.5, width: 5, height: 5 }, style: { fill: '#000' } });
      g.push({ ...lineEl(348, bot - 17, 348, bot - 7, 1), z: Z });
    }
    g.push(txtEl(p.fitLabel, 355, bot - 12, 10.5, 'left', { z: Z }));
  });
  const b1 = RG.top + PH;
  g.push({ type: 'polygon', z: Z, silent: true, shape: { points: [[458, b1 - 15.5], [461.5, b1 - 9], [454.5, b1 - 9]] }, style: { fill: '#fff', stroke: '#000', lineWidth: 1 } });
  g.push(txtEl('κ=1', 464, b1 - 12, 10.5, 'left', { z: Z }));
  g.push({ type: 'circle', z: Z, silent: true, shape: { cx: 504.5, cy: b1 - 12, r: 3.2 }, style: { fill: '#fff', stroke: '#000', lineWidth: 1 } });
  g.push(txtEl('DSS2007', 510, b1 - 12, 10.5, 'left', { z: Z }));
  g.push(txtEl('scale variation', 522, 418, 10.5, 'center', { z: Z }));
  g.push(...runs(523, 430, [['p', 10.5], ['T', 7, 3], ['/2 ≤ μ', 10.5], ['i', 7, 3], [' ≤ 2p', 10.5], ['T', 7, 3]], 'center'));
  g.push({ type: 'rect', z: Z - 1, silent: true, shape: { x: 466, y: 425, width: 23, height: 9 }, style: { fill: SCALE_BLUE } });

  return {
    animation: false,
    backgroundColor: '#fff',
    textStyle: { fontFamily: SERIF },
    grid, xAxis, yAxis, series,
    graphic: { elements: g },
  };
}

export default function App() {
  const ref = useRef<HTMLDivElement>(null);
  useEffect(() => {
    document.body.style.margin = '0';
    const chart = echarts.init(ref.current as HTMLDivElement, undefined, { renderer: 'svg' });
    chart.setOption(buildOption() as any);
    return () => chart.dispose();
  }, []);
  return <div ref={ref} style={{ width: 608, height: 486 }} />;
}
